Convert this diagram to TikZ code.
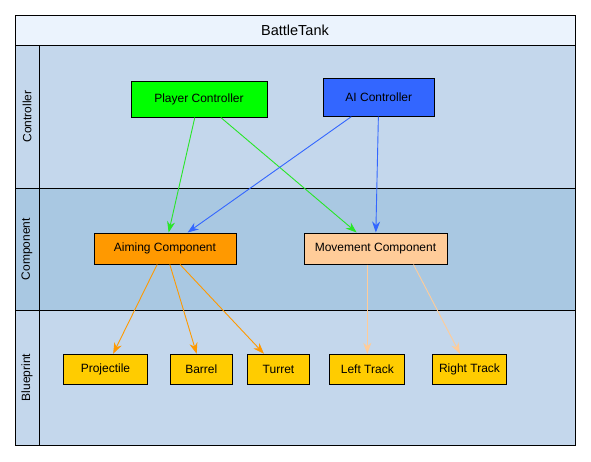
\documentclass[tikz,border=0pt]{standalone}
\usepackage{fontspec}
\setmainfont{Liberation Sans}
\usetikzlibrary{arrows.meta}

\definecolor{headfill}{RGB}{235,243,253}
\definecolor{lanelight}{RGB}{196,215,236}
\definecolor{lanedark}{RGB}{169,200,226}
\definecolor{playergreen}{RGB}{0,255,0}
\definecolor{aiblue}{RGB}{51,102,255}
\definecolor{aimorange}{RGB}{255,153,0}
\definecolor{movepeach}{RGB}{255,204,153}
\definecolor{partyellow}{RGB}{255,204,0}
\definecolor{greenline}{RGB}{40,230,40}

\tikzset{
	box/.style = {draw, line width = 1pt, inner sep = 0pt, font = \fontsize{12}{14}\selectfont},
	part/.style = {box, fill = partyellow, minimum height = 30pt},
	lanename/.style = {rotate = 90, font = \fontsize{12}{14}\selectfont},
	flow/.style = {line width = 0.9pt, -{Stealth[length = 11pt, width = 8pt, inset = 3.5pt]}}
}

\begin{document}
\begin{tikzpicture}[x = 1pt, y = -1pt]
	\useasboundingbox (0,0) rectangle (591,461);

	% lanes
	\fill[headfill] (15,15) rectangle (575,45);
	\fill[lanelight] (15,45) rectangle (575,188);
	\fill[lanedark] (15,188) rectangle (575,310);
	\fill[lanelight] (15,310) rectangle (575,445);
	\draw[line width = 1pt] (15,15) rectangle (575,445);
	\draw[line width = 1pt] (15,45) -- (575,45);
	\draw[line width = 1pt] (15,188) -- (575,188);
	\draw[line width = 1pt] (15,310) -- (575,310);
	\draw[line width = 1pt] (39,45) -- (39,445);

	\node (title)[font = \fontsize{14.5}{17}\selectfont] at (295,30) {BattleTank};
	\node (l1)[lanename] at (27,116.5) {Controller};
	\node (l2)[lanename] at (27,249) {Component};
	\node (l3)[lanename] at (27,377.5) {Blueprint};

	\node (player)[box, fill = playergreen, minimum width = 136pt, minimum height = 36pt] at (199,99) {Player Controller};
	\node (ai)[box, fill = aiblue, minimum width = 111pt, minimum height = 38pt] at (378.8,97.2) {AI Controller};

	\node (aiming)[box, fill = aimorange, minimum width = 142pt, minimum height = 31pt] at (165,248.5) {Aiming Component};
	\node (movement)[box, fill = movepeach, minimum width = 143pt, minimum height = 31pt] at (375.5,248.5) {Movement Component};

	\node (projectile)[part, minimum width = 84pt] at (105.5,369.3) {Projectile};
	\node (barrel)[part, minimum width = 62pt] at (201.3,369.3) {Barrel};
	\node (turret)[part, minimum width = 62pt] at (278.5,369.3) {Turret};
	\node (lefttrack)[part, minimum width = 74.7pt] at (367.3,369.3) {Left Track};
	\node (righttrack)[part, minimum width = 74.3pt] at (469.5,369.3) {Right Track};

	\draw [flow, greenline](player)--(aiming);
	\draw [flow, greenline](player)--(movement);
	\draw [flow, aiblue](ai)--(aiming);
	\draw [flow, aiblue](ai)--(movement);
	\draw [flow, aimorange](aiming)--(projectile);
	\draw [flow, aimorange](aiming)--(barrel);
	\draw [flow, aimorange](aiming)--(turret);
	\draw [flow, movepeach](movement.south -| lefttrack.north)--(lefttrack.north);
	\draw [flow, movepeach]([xshift = -34pt]movement.south east)--([xshift = -9.5pt]righttrack.north);
\end{tikzpicture}
\end{document}
